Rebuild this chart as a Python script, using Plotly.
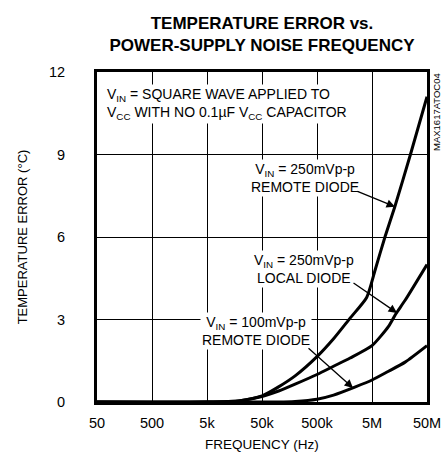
import plotly.graph_objects as go
import math

# ---- data ----
freq_remote_250 = [50, 5000, 20000, 50000, 100000, 200000, 500000, 1e6, 2e6, 4e6, 5.7e6, 8.6e6, 13e6, 25e6, 50e6]
temp_remote_250 = [0, 0, 0.05, 0.22, 0.55, 0.95, 1.65, 2.3, 3.05, 3.8, 4.8, 6.0, 7.1, 9.0, 11.1]

freq_local_250 = [50, 5000, 20000, 50000, 100000, 200000, 500000, 1e6, 2e6, 5e6, 10e6, 13.5e6, 20e6, 50e6]
temp_local_250 = [0, 0, 0.05, 0.2, 0.4, 0.65, 1.0, 1.3, 1.6, 2.05, 2.75, 3.2, 3.7, 5.0]

freq_remote_100 = [50, 100000, 200000, 500000, 1e6, 2.5e6, 5e6, 10e6, 20e6, 50e6]
temp_remote_100 = [0, 0, 0.02, 0.1, 0.25, 0.55, 0.8, 1.12, 1.45, 2.05]

x_tick_vals = [50, 500, 5000, 50000, 500000, 5e6, 50e6]
x_tick_text = ["50", "500", "5k", "50k", "500k", "5M", "50M"]
y_tick_vals = [0, 3, 6, 9, 12]

FONT = "Liberation Sans, Arial, sans-serif"

fig = go.Figure()
for fx, ty in [(freq_remote_250, temp_remote_250), (freq_local_250, temp_local_250), (freq_remote_100, temp_remote_100)]:
    fig.add_trace(go.Scatter(x=fx, y=ty, mode="lines", line=dict(color="black", width=3, shape="spline", smoothing=0.6),
                             showlegend=False, hoverinfo="skip"))

L = math.log10
fig.update_layout(
    width=445, height=461,
    margin=dict(l=97, r=18, t=72, b=59, autoexpand=False),
    paper_bgcolor="white", plot_bgcolor="white",
    font=dict(family=FONT, color="black", size=14),
    title=dict(text="<b>TEMPERATURE ERROR vs.<br>POWER-SUPPLY NOISE FREQUENCY</b>",
               x=(97 + 427) / 2 / 445, xanchor="center", y=1 - 29 / 461, yanchor="top",
               font=dict(family=FONT, size=17, color="black")),
    xaxis=dict(type="log", range=[L(50), L(50e6)], tickvals=x_tick_vals, ticktext=x_tick_text,
               showgrid=True, gridcolor="black", gridwidth=1, showline=True, linecolor="black", linewidth=3,
               mirror=True, ticks="", ticklabelstandoff=6, zeroline=False, automargin=False,
               title=dict(text="FREQUENCY (Hz)", standoff=10, font=dict(size=13.5)), tickfont=dict(size=14.5)),
    yaxis=dict(range=[0, 12], tickvals=y_tick_vals, showgrid=True, gridcolor="black", gridwidth=1,
               showline=True, linecolor="black", linewidth=3, mirror=True, ticks="", zeroline=False,
               ticklabelstandoff=26, automargin=False,
               title=dict(text="TEMPERATURE ERROR (°C)", standoff=19, font=dict(size=13)), tickfont=dict(size=14.5)),
)

def px_x(p):
    return (p - 97) / 330

def px_y(p):
    return (402 - p) / 330

texts = [
    ("V<sub>IN</sub> = SQUARE WAVE APPLIED TO<br>V<sub>CC</sub> WITH NO 0.1µF V<sub>CC</sub> CAPACITOR", 105, 104, "left"),
    ("V<sub>IN</sub> = 250mVp-p<br>REMOTE DIODE", 305, 178, "center"),
    ("V<sub>IN</sub> = 250mVp-p<br>LOCAL DIODE", 304, 269, "center"),
    ("V<sub>IN</sub> = 100mVp-p<br>REMOTE DIODE", 256, 331, "center"),
]
for t, x, y, al in texts:
    fig.add_annotation(text=t, x=px_x(x), y=px_y(y), xref="paper", yref="paper",
                       xanchor="left" if al == "left" else "center", yanchor="middle", align=al,
                       showarrow=False, bgcolor="white", borderpad=1, font=dict(size=14))

arrows = [
    (7.117, 7.1, -39, -16),
    (7.154, 3.24, -45, -31),
    (6.354, 0.51, -46, -41),
]
for x, y, ax, ay in arrows:
    fig.add_annotation(text="", x=x, y=y, xref="x", yref="y", ax=ax, ay=ay, showarrow=True,
                       arrowhead=2, arrowsize=1.3, arrowwidth=1.3, arrowcolor="black")

fig.add_annotation(text="MAX1617ATOC04", x=px_x(436), y=px_y(112), xref="paper", yref="paper",
                   textangle=-90, showarrow=False, font=dict(size=9.5), xanchor="center", yanchor="middle")

fig.write_html("out.html", config={"displayModeBar": False},
               post_script="document.body.style.margin='0';document.body.style.overflow='hidden';")
